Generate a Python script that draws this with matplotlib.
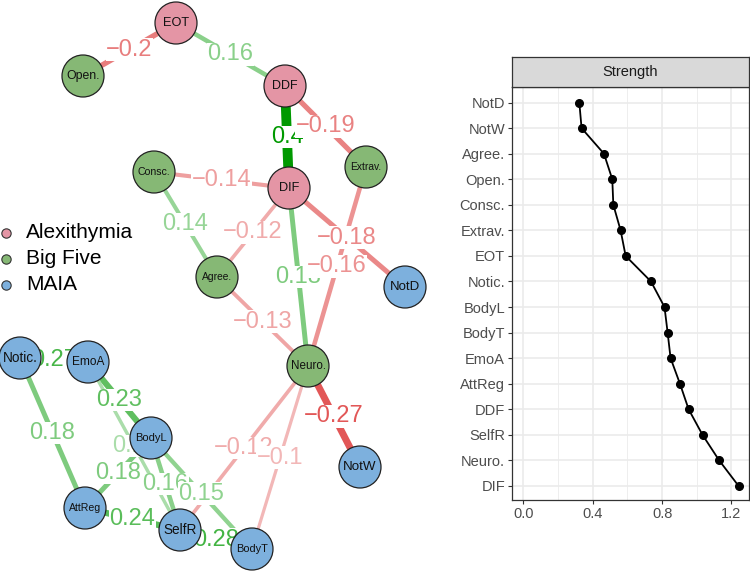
import matplotlib
matplotlib.use("Agg")
import matplotlib.pyplot as plt
from matplotlib.patches import Circle
import numpy as np

plt.rcParams['font.family'] = ['Liberation Sans', 'DejaVu Sans']

# ---------------- network data ----------------
node_names = ["EOT", "Open.", "DDF", "Extrav.", "Consc.", "DIF", "Agree.", "NotD",
              "Neuro.", "Notic.", "EmoA", "BodyL", "AttReg", "SelfR", "BodyT", "NotW"]
node_groups = ["Alexithymia", "Big Five", "Alexithymia", "Big Five", "Big Five",
               "Alexithymia", "Big Five", "MAIA", "Big Five", "MAIA", "MAIA", "MAIA",
               "MAIA", "MAIA", "MAIA", "MAIA"]
# layout (pixel space of the figure)
layout_x = [176, 83, 285, 366, 154, 289, 217, 405, 308, 20, 88, 151, 85, 180, 252, 360]
layout_y = [23, 76, 86, 167, 172, 188, 277, 287, 366, 358, 362, 438, 508, 530, 549, 467]

edge_from = ["EOT", "EOT", "DDF", "DDF", "Consc.", "Consc.", "DIF", "DIF", "DIF",
             "Extrav.", "Agree.", "Neuro.", "Neuro.", "Neuro.", "Notic.", "Notic.",
             "EmoA", "EmoA", "AttReg", "AttReg", "BodyL", "BodyL", "SelfR"]
edge_to = ["Open.", "DDF", "DIF", "Extrav.", "DIF", "Agree.", "Agree.", "NotD", "Neuro.",
           "Neuro.", "Neuro.", "NotW", "SelfR", "BodyT", "EmoA", "AttReg",
           "BodyL", "SelfR", "BodyL", "SelfR", "SelfR", "BodyT", "BodyT"]
edge_weights = [-0.20, 0.16, 0.40, -0.19, -0.14, 0.14, -0.12, -0.18, 0.18,
                -0.16, -0.13, -0.27, -0.12, -0.10, 0.27, 0.18,
                0.23, 0.11, 0.18, 0.24, 0.16, 0.15, 0.28]

group_names = ["Alexithymia", "Big Five", "MAIA"]
group_colors = {"Alexithymia": "#E495A5", "Big Five": "#86B875", "MAIA": "#7DB0DD"}

# ---------------- strength data ----------------
strength_nodes = ["NotD", "NotW", "Agree.", "Open.", "Consc.", "Extrav.", "EOT", "Notic.",
                  "BodyL", "BodyT", "EmoA", "AttReg", "DDF", "SelfR", "Neuro.", "DIF"]
strength_values = [0.323, 0.336, 0.465, 0.513, 0.519, 0.561, 0.590, 0.736,
                   0.814, 0.832, 0.849, 0.903, 0.953, 1.033, 1.129, 1.241]

# ---------------- styles ----------------
label_size = {"EOT": 9.2, "Open.": 8.8, "DDF": 9.0, "Extrav.": 7.4, "Consc.": 7.6,
              "DIF": 9.2, "Agree.": 7.4, "NotD": 9.5, "Neuro.": 8.4, "Notic.": 9.8,
              "EmoA": 8.6, "BodyL": 8.0, "AttReg": 7.6, "SelfR": 9.8, "BodyT": 7.9,
              "NotW": 9.6}

W, H = 750, 572
fig = plt.figure(figsize=(7.5, 5.72), dpi=100)

ax = fig.add_axes([0, 0, 1, 1])
ax.set_xlim(0, W)
ax.set_ylim(H, 0)
ax.set_aspect('equal')
ax.axis('off')

pos = {n: (x, y) for n, x, y in zip(node_names, layout_x, layout_y)}
maxw = max(abs(w) for w in edge_weights)
pos_base = np.array([0, 153, 0]) / 255
neg_base = np.array([214, 20, 20]) / 255


def edge_color(w):
    a = min(1.0, (abs(w) / maxw) ** 0.85)
    base = pos_base if w > 0 else neg_base
    return tuple(1 - a + a * base)


def fmt(w):
    s = f"{abs(w):.2f}".rstrip('0')
    return ("\u2212" if w < 0 else "") + s


for f, t, w in zip(edge_from, edge_to, edge_weights):
    (x0, y0), (x1, y1) = pos[f], pos[t]
    c = edge_color(w)
    ax.plot([x0, x1], [y0, y1], color=c, lw=(1 + 22 * abs(w)) * 0.72,
            solid_capstyle='butt', zorder=1)

for f, t, w in zip(edge_from, edge_to, edge_weights):
    (x0, y0), (x1, y1) = pos[f], pos[t]
    c = edge_color(w)
    ax.text((x0 + x1) / 2, (y0 + y1) / 2, fmt(w), color=c, fontsize=17,
            ha='center', va='center', zorder=2,
            bbox=dict(facecolor='white', edgecolor='none', pad=0.3))

R = 21
for n, g in zip(node_names, node_groups):
    x, y = pos[n]
    ax.add_patch(Circle((x, y), R, facecolor=group_colors[g], edgecolor='#222222',
                        lw=0.9, zorder=3))
    ax.text(x, y, n, fontsize=label_size[n], ha='center', va='center',
            color='#111111', zorder=4)

# legend
for i, g in enumerate(group_names):
    yy = 233 + i * 26
    ax.scatter([6], [yy], s=45, facecolor=group_colors[g], edgecolor='#333333',
               lw=0.8, zorder=5, clip_on=False)
    ax.text(26, yy, g, fontsize=15, ha='left', va='center', color='black', zorder=5)

# ---------------- strength panel ----------------
px0, px1, py_top, py_bot = 512, 749, 87, 500
ax2 = fig.add_axes([px0 / W, 1 - py_bot / H, (px1 - px0) / W, (py_bot - py_top) / H])
n = len(strength_nodes)
ypos = np.arange(n, 0, -1)
ax2.plot(strength_values, ypos, color='black', lw=1.3, marker='o', ms=5.5, zorder=3)
ax2.set_xlim(-0.065, 1.301)
ax2.set_ylim(0.45, n + 0.61)
ax2.set_xticks([0, 0.4, 0.8, 1.2])
ax2.set_xticklabels(["0.0", "0.4", "0.8", "1.2"])
ax2.set_xticks([0.2, 0.6, 1.0], minor=True)
ax2.set_yticks(ypos)
ax2.set_yticklabels(strength_nodes)
ax2.grid(which='major', color='#EBEBEB', lw=1.2)
ax2.grid(which='minor', axis='x', color='#EBEBEB', lw=0.6)
ax2.set_axisbelow(True)
ax2.tick_params(which='major', length=3, width=0.8, color='#333333',
                labelcolor='#4D4D4D', labelsize=10.5, pad=2)
ax2.tick_params(which='minor', length=0)
for s in ax2.spines.values():
    s.set_color('#333333')
    s.set_linewidth(0.9)

axs = fig.add_axes([px0 / W, 1 - py_top / H, (px1 - px0) / W, 30 / H])
axs.set_facecolor('#D9D9D9')
axs.set_xticks([])
axs.set_yticks([])
for s in axs.spines.values():
    s.set_color('#333333')
    s.set_linewidth(0.9)
axs.text(0.5, 0.5, "Strength", transform=axs.transAxes, ha='center', va='center',
         fontsize=10.5, color='#1A1A1A')

fig.savefig("out.png", dpi=100)
